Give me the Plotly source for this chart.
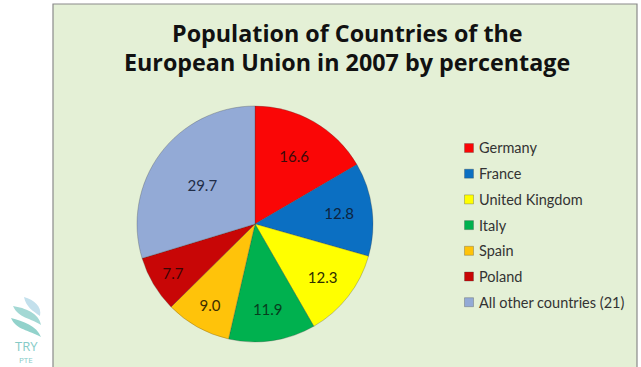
import plotly.graph_objects as go

# ---- data ----
countries = ["Germany", "France", "United Kingdom", "Italy", "Spain", "Poland",
             "All other countries (21)"]
percentages = [16.6, 12.8, 12.3, 11.9, 9.0, 7.7, 29.7]
slice_colors = ["#fa0606", "#0b6fc2", "#ffff00", "#00b14f", "#ffc30a", "#c80606", "#93aad6"]
label_colors = ["#3c0a0a", "#0d2440", "#2e2e00", "#073d1d", "#3d2e00", "#3a0505", "#1f2d48"]
title_lines = ["Population of Countries of the", "European Union in 2007 by percentage"]

W, H = 641, 367


def px(x):
    return x / W


def py(y):
    return 1 - y / H


fig = go.Figure()

cx, cy, r = 255, 224, 118
fig.add_trace(go.Pie(
    labels=countries,
    values=percentages,
    text=[f"{v:.1f}" for v in percentages],
    textinfo="text",
    textposition="inside",
    insidetextorientation="horizontal",
    textfont=dict(family="Lato, Open Sans, sans-serif", size=15, color=label_colors),
    marker=dict(colors=slice_colors, line=dict(color="rgba(60,60,60,0.35)", width=0.8)),
    sort=False,
    direction="clockwise",
    rotation=0,
    hole=0,
    showlegend=False,
    domain=dict(x=[px(cx - r), px(cx + r)], y=[py(cy + r), py(cy - r)]),
))

shapes = [
    # chart panel
    dict(type="rect", xref="paper", yref="paper", x0=px(53), x1=px(637), y0=py(368), y1=py(4),
         fillcolor="#e4f0d6", line=dict(color="#8a8a8a", width=1.2), layer="below"),
]
annotations = []

# title
for i, line in enumerate(title_lines):
    annotations.append(dict(
        xref="paper", yref="paper", x=px(347), y=py(33 + 29 * i), text=f"<b>{line}</b>",
        showarrow=False, xanchor="center", yanchor="middle",
        font=dict(family="Open Sans, Lato, sans-serif", size=23.3, color="#111111"),
    ))

# legend (built from the data lists)
leg_x, leg_y0, leg_dy = 469, 148, 25.7
for i, (name, col) in enumerate(zip(countries, slice_colors)):
    yy = leg_y0 + i * leg_dy
    shapes.append(dict(type="rect", xref="paper", yref="paper",
                       x0=px(leg_x - 4.5), x1=px(leg_x + 4.5), y0=py(yy + 4.5), y1=py(yy - 4.5),
                       fillcolor=col, line=dict(color="rgba(60,60,60,0.5)", width=0.6)))
    annotations.append(dict(
        xref="paper", yref="paper", x=px(leg_x + 8), y=py(yy), text=name,
        showarrow=False, xanchor="left", yanchor="middle",
        font=dict(family="Lato, Open Sans, sans-serif", size=14.5, color="#333333"),
    ))

# logo leaves
leaf_paths = [
    ("M 24 297 C 34 300 42 306 40 316 C 33 311 26 307 24 297 Z", "#c3e0ec"),
    ("M 13 306 C 25 308 39 313 41 325 C 31 318 18 318 13 306 Z", "#a3d8d4"),
    ("M 11 318 C 23 321 37 326 41 337 C 29 330 16 330 11 318 Z", "#92d2cb"),
]
for path, col in leaf_paths:
    toks = path.split()
    out = []
    nums = []
    for t in toks:
        try:
            nums.append(float(t))
        except ValueError:
            out.append(t)
            continue
        if len(nums) == 2:
            out.append(f"{px(nums[0]):.5f},{py(nums[1]):.5f}")
            nums = []
    shapes.append(dict(type="path", xref="paper", yref="paper", path=" ".join(out),
                       fillcolor=col, line=dict(width=0)))
annotations.append(dict(xref="paper", yref="paper", x=px(13), y=py(346), text="TRY",
                        xanchor="left", yanchor="middle",
                        showarrow=False, font=dict(family="Open Sans", size=13, color="#86cbc7")))
annotations.append(dict(xref="paper", yref="paper", x=px(17), y=py(359), text="PTE",
                        xanchor="left", yanchor="middle",
                        showarrow=False, font=dict(family="Open Sans", size=8, color="#86cbc7")))

fig.update_layout(
    width=W, height=H,
    margin=dict(l=0, r=0, t=0, b=0),
    paper_bgcolor="#ffffff",
    plot_bgcolor="#ffffff",
    shapes=shapes,
    annotations=annotations,
)

fig.write_html("out.html", config={"displayModeBar": False},
               post_script="document.body.style.margin='0';document.body.style.overflow='hidden';")
